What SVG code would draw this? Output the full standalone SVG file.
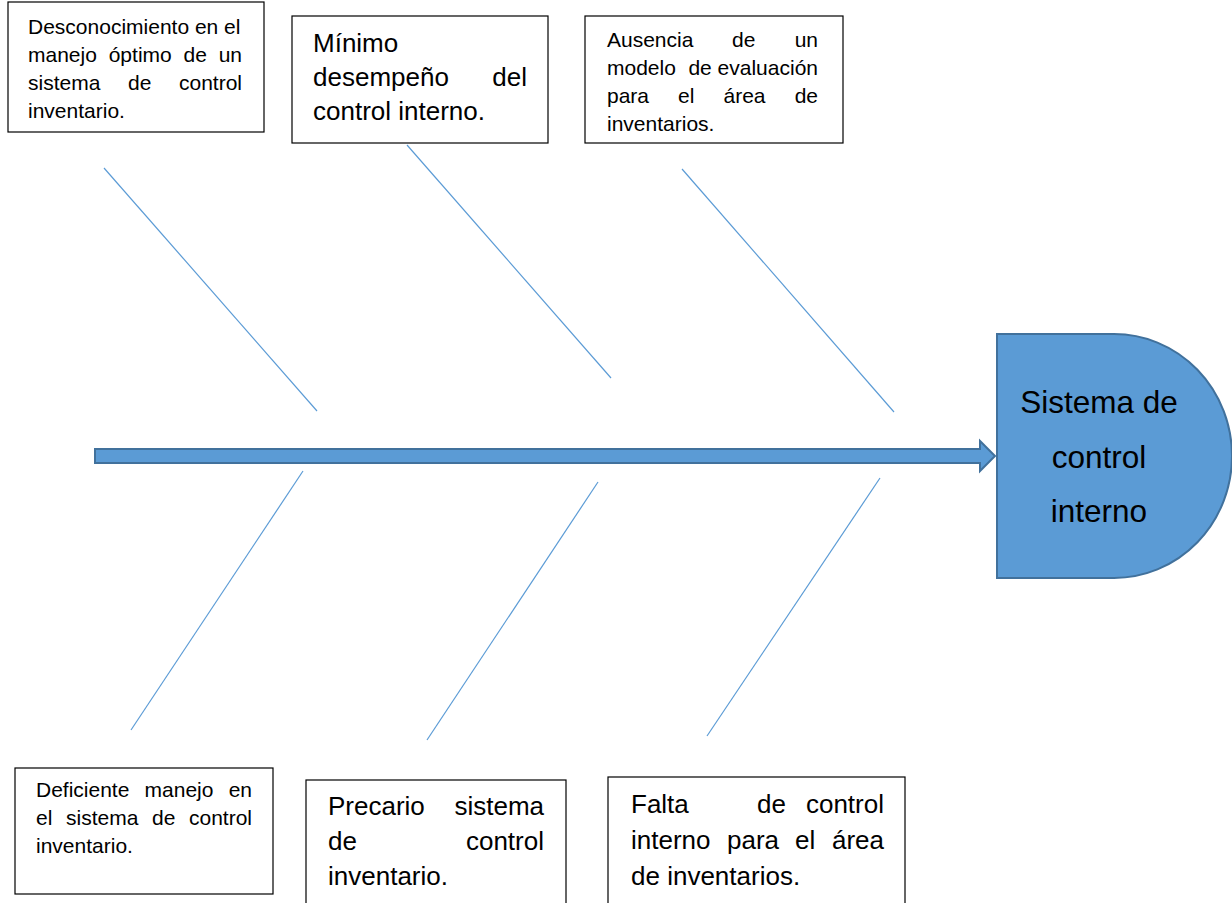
<svg xmlns="http://www.w3.org/2000/svg" width="1232" height="903" viewBox="0 0 1232 903">
<style>
.box{fill:#fff;stroke:#000;stroke-width:1.2}
.t{font-family:"Liberation Sans",Arial,sans-serif;fill:#000}
.s{font-size:21px}
.m{font-size:26px}
.e{text-anchor:end}
.bone{stroke:#5B9BD5;stroke-width:1.2;fill:none}
.blue{fill:#5B9BD5;stroke:#41719C;stroke-width:2}
</style>
<rect width="1232" height="903" fill="#fff"/>
<g id="connectors">
<line class="bone" x1="104" y1="168" x2="317" y2="411"/>
<line class="bone" x1="407" y1="145" x2="611" y2="378"/>
<line class="bone" x1="682" y1="169" x2="894" y2="412"/>
<line class="bone" x1="303" y1="471" x2="131" y2="730"/>
<line class="bone" x1="598" y1="482" x2="427" y2="740"/>
<line class="bone" x1="880" y1="478" x2="707" y2="736"/>
<polygon id="spine" class="blue" points="95,449 980,449 980,441 995,456 980,471 980,463 95,463"/>
</g>
<g id="effect">
<path class="blue" d="M997,334 H1114 A118,122 0 0 1 1114,578 H997 Z"/>
<text class="t" font-size="31.5" text-anchor="middle"><tspan x="1099" y="413">Sistema de</tspan><tspan x="1099" y="468">control</tspan><tspan x="1099" y="522">interno</tspan></text>
</g>
<g id="cause1">
<rect class="box" x="8" y="2" width="256" height="130"/>
<text class="t s" x="28" y="34">Desconocimiento en el</text>
<text class="t s" y="62"><tspan x="28">manejo</tspan><tspan x="108.7">óptimo</tspan><tspan x="183.5">de</tspan></text>
<text class="t s e" x="242" y="62">un</text>
<text class="t s" y="90"><tspan x="28">sistema</tspan><tspan x="128">de</tspan></text>
<text class="t s e" x="242" y="90">control</text>
<text class="t s" x="28" y="118">inventario.</text>
</g>
<g id="cause2">
<rect class="box" x="292" y="16" width="256" height="127"/>
<text class="t m" x="313" y="52">Mínimo</text>
<text class="t m" x="313" y="86">desempeño</text>
<text class="t m e" x="527" y="86">del</text>
<text class="t m" x="313" y="120">control interno.</text>
</g>
<g id="cause3">
<rect class="box" x="585" y="16" width="258" height="127"/>
<text class="t s" y="47"><tspan x="607">Ausencia</tspan><tspan x="732">de</tspan></text>
<text class="t s e" x="818" y="47">un</text>
<text class="t s" x="607" y="75">modelo</text>
<text class="t s e" x="818" y="75">de evaluación</text>
<text class="t s" y="103"><tspan x="607">para</tspan><tspan x="678">el</tspan><tspan x="723.5">área</tspan></text>
<text class="t s e" x="818" y="103">de</text>
<text class="t s" x="607" y="131">inventarios.</text>
</g>
<g id="cause4">
<rect class="box" x="15" y="768" width="258" height="126"/>
<text class="t s" y="797"><tspan x="36">Deficiente</tspan><tspan x="144.6">manejo</tspan></text>
<text class="t s e" x="252" y="797">en</text>
<text class="t s" y="825"><tspan x="36">el</tspan><tspan x="66">sistema</tspan><tspan x="152">de</tspan></text>
<text class="t s e" x="252" y="825">control</text>
<text class="t s" x="36" y="853">inventario.</text>
</g>
<g id="cause5">
<rect class="box" x="306" y="780" width="260" height="140"/>
<text class="t m" x="328" y="815">Precario</text>
<text class="t m e" x="544" y="815">sistema</text>
<text class="t m" x="328" y="850">de</text>
<text class="t m e" x="544" y="850">control</text>
<text class="t m" x="328" y="885">inventario.</text>
</g>
<g id="cause6">
<rect class="box" x="608" y="777" width="297" height="140"/>
<text class="t m" y="813"><tspan x="631">Falta</tspan><tspan x="757">de</tspan></text>
<text class="t m e" x="884" y="813">control</text>
<text class="t m" y="849"><tspan x="631">interno</tspan><tspan x="727">para</tspan><tspan x="795">el</tspan></text>
<text class="t m e" x="884" y="849">área</text>
<text class="t m" x="631" y="885">de inventarios.</text>
</g>
</svg>
